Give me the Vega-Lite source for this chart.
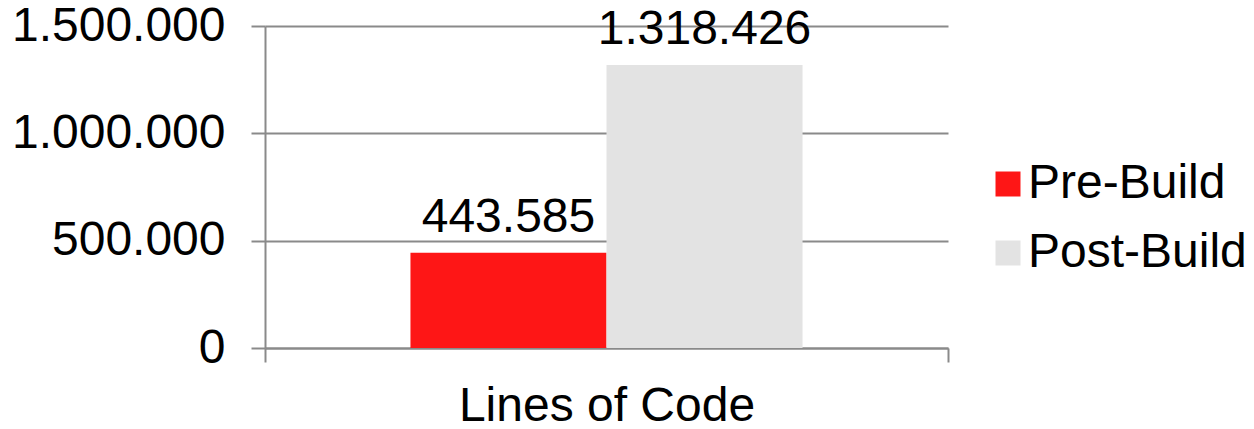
{
  "$schema": "https://vega.github.io/schema/vega-lite/v6.json",
  "autosize": {"type": "none"},
  "width": 683,
  "height": 322,
  "padding": {"left": 265, "top": 26, "right": 306, "bottom": 81},
  "background": "white",
  "config": {
    "view": {"stroke": null},
    "font": "Liberation Sans",
    "locale": {"number": {"decimal": ",", "thousands": ".", "grouping": [3], "currency": ["", " €"]}}
  },
  "data": {
    "values": [
      {"category": "Lines of Code", "series": "Pre-Build", "value": 443585},
      {"category": "Lines of Code", "series": "Post-Build", "value": 1318426}
    ]
  },
  "encoding": {
    "x": {
      "field": "category", "type": "nominal",
      "scale": {"paddingInner": 0, "paddingOuter": 0},
      "axis": {
        "title": null, "labelAngle": 0, "labelFontSize": 48, "labelColor": "black",
        "labelFont": "Liberation Sans", "labelBaseline": "alphabetic", "labelPadding": 58,
        "labelLimit": 0,
        "tickBand": "extent", "tickSize": 14, "tickColor": "#8a8a8a", "tickWidth": 2,
        "domainColor": "#8a8a8a", "domainWidth": 2, "grid": false
      }
    },
    "xOffset": {
      "field": "series", "type": "nominal", "sort": ["Pre-Build", "Post-Build"],
      "scale": {"paddingInner": 0, "paddingOuter": 0.742}
    },
    "y": {
      "field": "value", "type": "quantitative",
      "scale": {"domain": [0, 1500000], "nice": false},
      "axis": {
        "title": null, "values": [0, 500000, 1000000, 1500000], "format": ",d",
        "labelFontSize": 48, "labelColor": "black", "labelFont": "Liberation Sans",
        "labelPadding": 26, "labelLimit": 0, "tickSize": 14, "tickColor": "#8a8a8a", "tickWidth": 2,
        "domainColor": "#8a8a8a", "domainWidth": 2,
        "grid": true, "gridColor": "#8a8a8a", "gridWidth": 2
      }
    }
  },
  "layer": [
    {
      "mark": {"type": "bar"},
      "encoding": {
        "color": {
          "field": "series", "type": "nominal",
          "scale": {"domain": ["Pre-Build", "Post-Build"], "range": ["#fe1616", "#e3e3e3"]},
          "legend": {
            "title": null, "orient": "none", "legendX": 719, "legendY": 134,
            "symbolType": "square", "symbolSize": 625, "symbolStrokeWidth": 0,
            "labelFontSize": 48, "labelFont": "Liberation Sans", "labelColor": "black",
            "labelOffset": -4, "rowPadding": 21, "padding": 0, "labelLimit": 0
          }
        }
      }
    },
    {
      "mark": {"type": "text", "fontSize": 48, "font": "Liberation Sans", "color": "black", "baseline": "alphabetic", "dy": -21},
      "encoding": {
        "text": {"field": "value", "type": "quantitative", "format": ",d"}
      }
    }
  ]
}
